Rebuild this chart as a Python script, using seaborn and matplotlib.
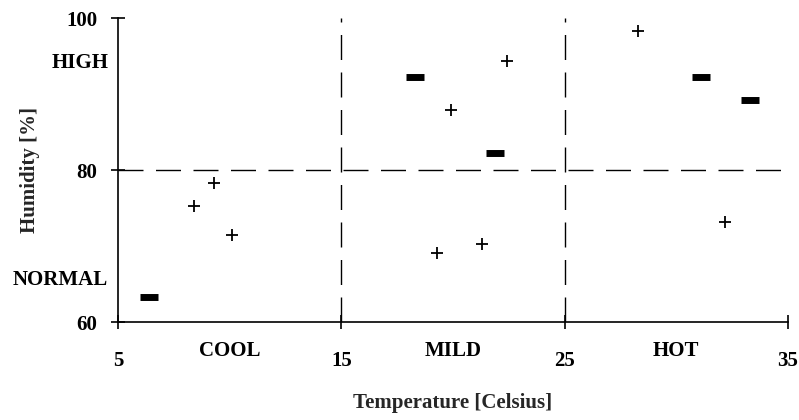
import matplotlib
matplotlib.use('Agg')
import matplotlib.pyplot as plt
import pandas as pd
import seaborn as sns

# readings
yes_temp = [8.4, 9.3, 10.1, 19.9, 22.4, 19.3, 21.3, 28.3, 32.2]
yes_hum = [75.2, 78.3, 71.4, 87.9, 94.3, 69.1, 70.2, 98.3, 73.1]
no_temp = [6.4, 18.3, 21.9, 31.1, 33.3]
no_hum = [63.3, 92.3, 82.2, 92.3, 89.2]

x_ticks = [5, 15, 25, 35]
y_ticks = [60, 80, 100]
temp_bands = [10, 20, 30]
temp_names = ['COOL', 'MILD', 'HOT']
hum_bands = [94.4, 65.8]
hum_names = ['HIGH', 'NORMAL']
cuts_x = [15, 25]
cut_y = 80

yes = pd.DataFrame({'Temperature': yes_temp, 'Humidity': yes_hum})
no = pd.DataFrame({'Temperature': no_temp, 'Humidity': no_hum})

sns.set_style('ticks')
plt.rcParams['font.family'] = ['Liberation Serif', 'DejaVu Serif']
plt.rcParams['font.size'] = 15
plt.rcParams['font.weight'] = 'bold'

fig = plt.figure(figsize=(7.99, 4.2), dpi=100)
ax = fig.add_axes([0.1477, 0.2333, 0.8385, 0.7238])

for xc in cuts_x:
    ax.axvline(xc, color='black', lw=1, dashes=(18, 9), zorder=1)
ax.axhline(cut_y, color='black', lw=1, dashes=(18, 9), zorder=1)

sns.scatterplot(data=yes, x='Temperature', y='Humidity', marker='+', s=85,
                color='black', linewidth=1.3, ax=ax, zorder=3)
sns.scatterplot(data=no, x='Temperature', y='Humidity', marker='_', s=150,
                color='black', linewidth=5, ax=ax, zorder=3)

ax.set_xlim(5, 35)
ax.set_ylim(60, 100)
ax.set_xticks(x_ticks)
ax.set_yticks(y_ticks)
ax.set_xticks(temp_bands, labels=temp_names, minor=True)
ax.set_yticks(hum_bands, labels=hum_names, minor=True)
ax.tick_params(which='major', direction='inout', length=10, width=1.2, color='black',
               labelsize=15, labelcolor='black')
ax.tick_params(axis='x', which='major', pad=16)
ax.tick_params(axis='y', which='major', pad=10)
ax.tick_params(which='minor', length=0, labelsize=15, labelcolor='black')
ax.tick_params(axis='x', which='minor', pad=14)
ax.tick_params(axis='y', which='minor', pad=7)

sns.despine(ax=ax)
for side in ['left', 'bottom']:
    ax.spines[side].set_color('black')
    ax.spines[side].set_linewidth(1.2)

ax.set_xlabel('Temperature [Celsius]', fontsize=15, fontweight='bold')
ax.set_ylabel('Humidity [%]', fontsize=15, fontweight='bold')
ax.xaxis.set_label_coords(0.5, -0.235)
ax.yaxis.set_label_coords(-0.116, 0.5)

fig.savefig('out.png', dpi=100)
